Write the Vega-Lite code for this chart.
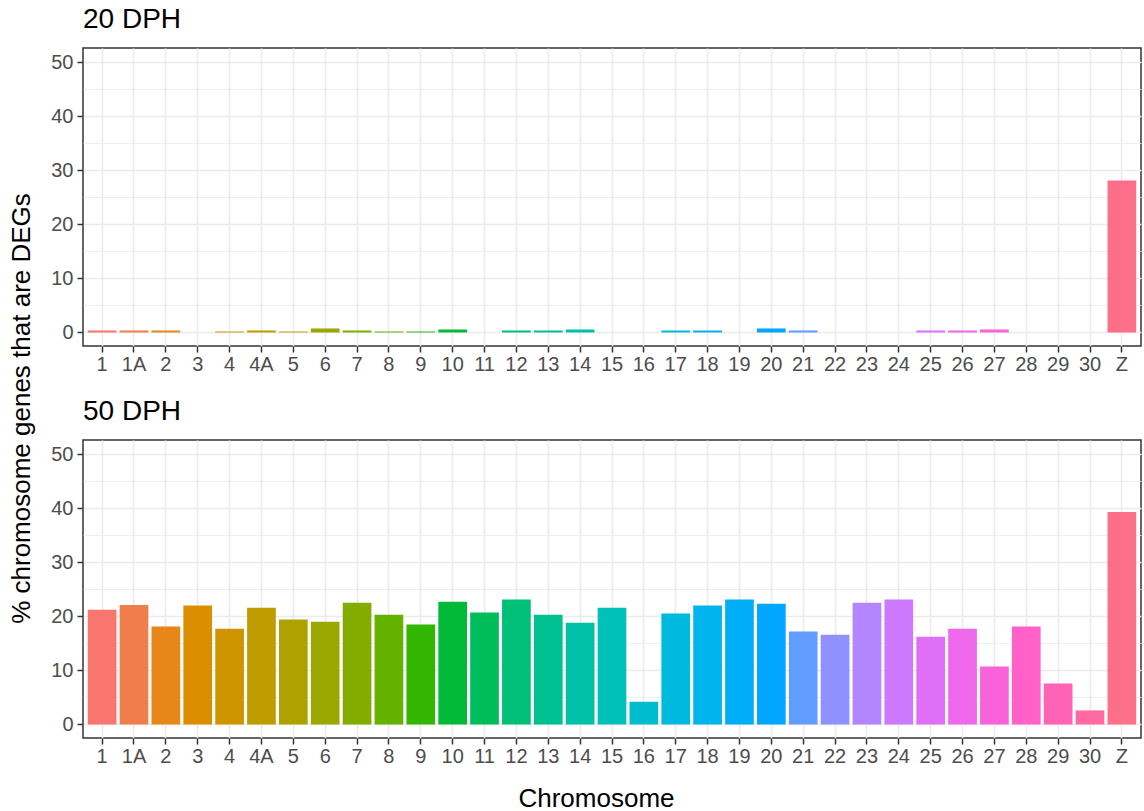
{
  "$schema": "https://vega.github.io/schema/vega-lite/v6.json",
  "padding": {"left": 8, "top": 5, "right": 0, "bottom": 0},
  "bounds": "flush",
  "spacing": 94,
  "config": {
    "font": "Liberation Sans",
    "view": {"stroke": "#333333", "strokeWidth": 1.5},
    "axis": {
      "domain": false,
      "tickColor": "#333333",
      "tickWidth": 1.5,
      "tickSize": 6,
      "labelColor": "#4D4D4D",
      "labelFontSize": 20,
      "labelPadding": 4,
      "gridColor": "#EBEBEB",
      "gridWidth": 1.6,
      "titleFontSize": 26,
      "titleFontWeight": "normal",
      "titleColor": "black"
    },
    "axisX": {"labelPadding": 2}
  },
  "data": {
    "values": [
      {"age": "20 DPH", "chr": "1", "pct": 0.37},
      {"age": "20 DPH", "chr": "1A", "pct": 0.37},
      {"age": "20 DPH", "chr": "2", "pct": 0.37},
      {"age": "20 DPH", "chr": "3", "pct": 0},
      {"age": "20 DPH", "chr": "4", "pct": 0.18},
      {"age": "20 DPH", "chr": "4A", "pct": 0.37},
      {"age": "20 DPH", "chr": "5", "pct": 0.18},
      {"age": "20 DPH", "chr": "6", "pct": 0.74},
      {"age": "20 DPH", "chr": "7", "pct": 0.37},
      {"age": "20 DPH", "chr": "8", "pct": 0.18},
      {"age": "20 DPH", "chr": "9", "pct": 0.18},
      {"age": "20 DPH", "chr": "10", "pct": 0.55},
      {"age": "20 DPH", "chr": "11", "pct": 0},
      {"age": "20 DPH", "chr": "12", "pct": 0.37},
      {"age": "20 DPH", "chr": "13", "pct": 0.37},
      {"age": "20 DPH", "chr": "14", "pct": 0.55},
      {"age": "20 DPH", "chr": "15", "pct": 0},
      {"age": "20 DPH", "chr": "16", "pct": 0},
      {"age": "20 DPH", "chr": "17", "pct": 0.37},
      {"age": "20 DPH", "chr": "18", "pct": 0.37},
      {"age": "20 DPH", "chr": "19", "pct": 0},
      {"age": "20 DPH", "chr": "20", "pct": 0.74},
      {"age": "20 DPH", "chr": "21", "pct": 0.37},
      {"age": "20 DPH", "chr": "22", "pct": 0},
      {"age": "20 DPH", "chr": "23", "pct": 0},
      {"age": "20 DPH", "chr": "24", "pct": 0},
      {"age": "20 DPH", "chr": "25", "pct": 0.37},
      {"age": "20 DPH", "chr": "26", "pct": 0.37},
      {"age": "20 DPH", "chr": "27", "pct": 0.55},
      {"age": "20 DPH", "chr": "28", "pct": 0},
      {"age": "20 DPH", "chr": "29", "pct": 0},
      {"age": "20 DPH", "chr": "30", "pct": 0},
      {"age": "20 DPH", "chr": "Z", "pct": 28.1},
      {"age": "50 DPH", "chr": "1", "pct": 21.2},
      {"age": "50 DPH", "chr": "1A", "pct": 22.1},
      {"age": "50 DPH", "chr": "2", "pct": 18.1},
      {"age": "50 DPH", "chr": "3", "pct": 22.0},
      {"age": "50 DPH", "chr": "4", "pct": 17.7},
      {"age": "50 DPH", "chr": "4A", "pct": 21.6},
      {"age": "50 DPH", "chr": "5", "pct": 19.4},
      {"age": "50 DPH", "chr": "6", "pct": 19.0},
      {"age": "50 DPH", "chr": "7", "pct": 22.5},
      {"age": "50 DPH", "chr": "8", "pct": 20.3},
      {"age": "50 DPH", "chr": "9", "pct": 18.5},
      {"age": "50 DPH", "chr": "10", "pct": 22.7},
      {"age": "50 DPH", "chr": "11", "pct": 20.7},
      {"age": "50 DPH", "chr": "12", "pct": 23.1},
      {"age": "50 DPH", "chr": "13", "pct": 20.3},
      {"age": "50 DPH", "chr": "14", "pct": 18.8},
      {"age": "50 DPH", "chr": "15", "pct": 21.6},
      {"age": "50 DPH", "chr": "16", "pct": 4.2},
      {"age": "50 DPH", "chr": "17", "pct": 20.5},
      {"age": "50 DPH", "chr": "18", "pct": 22.0},
      {"age": "50 DPH", "chr": "19", "pct": 23.1},
      {"age": "50 DPH", "chr": "20", "pct": 22.3},
      {"age": "50 DPH", "chr": "21", "pct": 17.2},
      {"age": "50 DPH", "chr": "22", "pct": 16.6},
      {"age": "50 DPH", "chr": "23", "pct": 22.5},
      {"age": "50 DPH", "chr": "24", "pct": 23.1},
      {"age": "50 DPH", "chr": "25", "pct": 16.2},
      {"age": "50 DPH", "chr": "26", "pct": 17.7},
      {"age": "50 DPH", "chr": "27", "pct": 10.7},
      {"age": "50 DPH", "chr": "28", "pct": 18.1},
      {"age": "50 DPH", "chr": "29", "pct": 7.6},
      {"age": "50 DPH", "chr": "30", "pct": 2.6},
      {"age": "50 DPH", "chr": "Z", "pct": 39.3}
    ]
  },
  "vconcat": [
    {
      "title": {"text": "20 DPH", "anchor": "start", "frame": "group", "fontSize": 28, "fontWeight": "normal", "color": "black", "baseline": "bottom", "offset": -14},
      "width": 1058,
      "height": 298,
      "transform": [{"filter": "datum.age == '20 DPH'"}],
      "mark": {"type": "bar"},
      "encoding": {
        "x": {
          "field": "chr", "type": "nominal",
          "scale": {"domain": ["1","1A","2","3","4","4A","5","6","7","8","9","10","11","12","13","14","15","16","17","18","19","20","21","22","23","24","25","26","27","28","29","30","Z"], "paddingInner": 0.1, "paddingOuter": 0.15},
          "axis": {"title": null, "labelAngle": 0, "bandPosition": 0.5, "grid": true}
        },
        "y": {
          "field": "pct", "type": "quantitative",
          "scale": {"domain": [-2.5, 52.6], "nice": false, "zero": false},
          "axis": {
            "title": "% chromosome genes that are DEGs",
            "titleY": 360,
            "titlePadding": 16,
            "values": [0, 5, 10, 15, 20, 25, 30, 35, 40, 45, 50],
            "labelExpr": "datum.value % 10 == 0 ? datum.label : ''",
            "tickOpacity": {"condition": {"test": "datum.value % 10 != 0", "value": 0}, "value": 1},
            "gridWidth": {"condition": {"test": "datum.value % 10 != 0", "value": 0.8}, "value": 1.6}
          }
        },
        "y2": {"datum": 0},
        "color": {
          "field": "chr", "type": "nominal", "legend": null,
          "scale": {
            "domain": ["1","1A","2","3","4","4A","5","6","7","8","9","10","11","12","13","14","15","16","17","18","19","20","21","22","23","24","25","26","27","28","29","30","Z"],
            "range": ["#F8766D","#F07E4D","#E78619","#DB8E00","#CF9500","#BF9C00","#AEA200","#9AA800","#82AD00","#64B200","#32B600","#00BA38","#00BD5C","#00BF77","#00C091","#00C1A7","#00C0BA","#00BDCD","#00BADE","#00B5ED","#00AEF8","#00A6FF","#619CFF","#9091FF","#B385FF","#CC79FF","#E06FF7","#EF67EB","#F962DB","#FF61C9","#FF63B6","#FF68A0","#FD6F88"]
          }
        }
      }
    },
    {
      "title": {"text": "50 DPH", "anchor": "start", "frame": "group", "fontSize": 28, "fontWeight": "normal", "color": "black", "baseline": "bottom", "offset": -14},
      "width": 1058,
      "height": 298,
      "transform": [{"filter": "datum.age == '50 DPH'"}],
      "mark": {"type": "bar"},
      "encoding": {
        "x": {
          "field": "chr", "type": "nominal",
          "scale": {"domain": ["1","1A","2","3","4","4A","5","6","7","8","9","10","11","12","13","14","15","16","17","18","19","20","21","22","23","24","25","26","27","28","29","30","Z"], "paddingInner": 0.1, "paddingOuter": 0.15},
          "axis": {"title": "Chromosome", "titleX": 513, "titlePadding": 19, "labelAngle": 0, "bandPosition": 0.5, "grid": true}
        },
        "y": {
          "field": "pct", "type": "quantitative",
          "scale": {"domain": [-2.5, 52.6], "nice": false, "zero": false},
          "axis": {
            "title": null,
            "values": [0, 5, 10, 15, 20, 25, 30, 35, 40, 45, 50],
            "labelExpr": "datum.value % 10 == 0 ? datum.label : ''",
            "tickOpacity": {"condition": {"test": "datum.value % 10 != 0", "value": 0}, "value": 1},
            "gridWidth": {"condition": {"test": "datum.value % 10 != 0", "value": 0.8}, "value": 1.6}
          }
        },
        "y2": {"datum": 0},
        "color": {
          "field": "chr", "type": "nominal", "legend": null,
          "scale": {
            "domain": ["1","1A","2","3","4","4A","5","6","7","8","9","10","11","12","13","14","15","16","17","18","19","20","21","22","23","24","25","26","27","28","29","30","Z"],
            "range": ["#F8766D","#F07E4D","#E78619","#DB8E00","#CF9500","#BF9C00","#AEA200","#9AA800","#82AD00","#64B200","#32B600","#00BA38","#00BD5C","#00BF77","#00C091","#00C1A7","#00C0BA","#00BDCD","#00BADE","#00B5ED","#00AEF8","#00A6FF","#619CFF","#9091FF","#B385FF","#CC79FF","#E06FF7","#EF67EB","#F962DB","#FF61C9","#FF63B6","#FF68A0","#FD6F88"]
          }
        }
      }
    }
  ],
  "resolve": {"scale": {"color": "shared", "x": "independent", "y": "independent"}}
}
